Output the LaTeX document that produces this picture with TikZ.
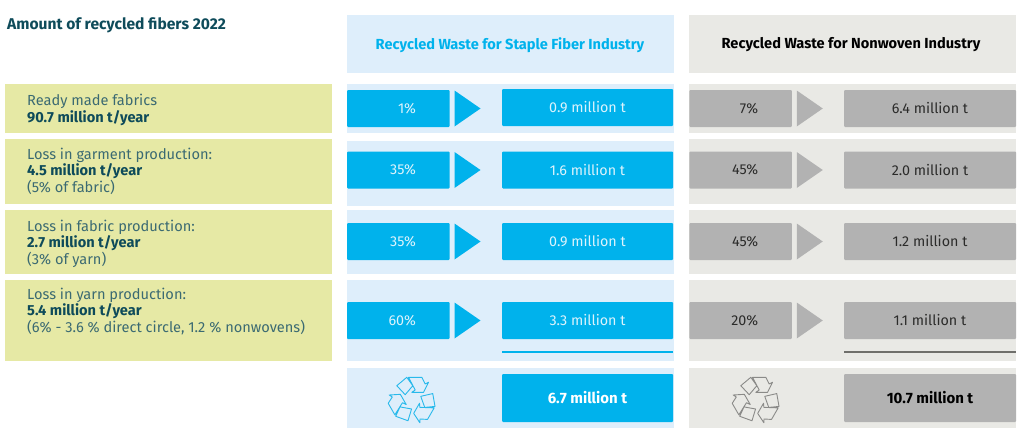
\documentclass[tikz,border=0pt]{standalone}
\usepackage{fontspec}
\setmainfont{Fira Sans}
\usetikzlibrary{positioning,shapes.geometric}
\definecolor{bluebox}{HTML}{00B2EC}
\definecolor{bluerow}{HTML}{DEEEFB}
\definecolor{bluetext}{HTML}{DDF3FC}
\definecolor{iconb}{RGB}{40,185,235}
\definecolor{grayrow}{HTML}{E9E9E5}
\definecolor{graybox}{HTML}{B2B2B2}
\definecolor{grayline}{HTML}{6F6F6B}
\definecolor{icong}{HTML}{8A8A88}
\definecolor{darktext}{HTML}{2B2B2A}
\definecolor{greenrow}{HTML}{E6E9A5}
\definecolor{greentext}{HTML}{3B6A72}
\definecolor{tealtext}{HTML}{0E4B5A}
\tikzset{
    %Define style for flat backgrounds
    flat/.style={
           rectangle,
           inner sep=0pt,
           outer sep=0pt,
           anchor=north west},
    %Define style for boxes
    sumblue/.style={
           rectangle,
           rounded corners=1pt,
           fill=bluebox,
           text=bluetext,
           inner sep=0pt,
           outer sep=0pt,
           minimum width=171pt,
           minimum height=37pt,
           font=\fontsize{14.3}{16}\selectfont},
    pctblue/.style={
           sumblue,
           minimum width=102.5pt,
           text width=35.5pt,
           align=right},
    sumgray/.style={
           sumblue,
           fill=graybox,
           text=darktext,
           minimum width=172pt},
    pctgray/.style={
           pctblue,
           fill=graybox,
           text=darktext},
    %Define style for the triangles
    tipblue/.style={
           isosceles triangle,
           isosceles triangle apex angle=70,
           isosceles triangle stretches,
           fill=bluebox,
           inner sep=0pt,
           outer sep=0pt,
           minimum width=36pt,
           minimum height=26pt},
    tipgray/.style={
           tipblue,
           fill=graybox},
    % Define text styles
    head/.style={
           inner sep=0pt,
           font=\fontsize{14.6}{16}\bfseries\selectfont},
    total/.style={
           minimum height=48pt,
           font=\fontsize{15}{16}\bfseries\selectfont},
    side/.style={
           inner sep=0pt,
           anchor=north west,
           align=left,
           text=greentext,
           font=\fontsize{14.6}{16.5}\selectfont},
    % Define the recycling sign
    recycle/.pic={
        \draw[pic actions, yscale=-1] (-15.7,14.3) -- (-5.7,22.7) -- (0.3,14.3) -- (-7.3,5.3) -- cycle
            (-4,22.7) -- (9.3,22.7) -- (12.7,16) -- (16,17.7) -- (11,7.7) -- (-0.7,7.7) -- (2.7,10) -- cycle;
        \draw[pic actions, yscale=-1, rotate=120] (-15.7,14.3) -- (-5.7,22.7) -- (0.3,14.3) -- (-7.3,5.3) -- cycle
            (-4,22.7) -- (9.3,22.7) -- (12.7,16) -- (16,17.7) -- (11,7.7) -- (-0.7,7.7) -- (2.7,10) -- cycle;
        \draw[pic actions, yscale=-1, rotate=240] (-15.7,14.3) -- (-5.7,22.7) -- (0.3,14.3) -- (-7.3,5.3) -- cycle
            (-4,22.7) -- (9.3,22.7) -- (12.7,16) -- (16,17.7) -- (11,7.7) -- (-0.7,7.7) -- (2.7,10) -- cycle;
    }
}
\newcommand{\boldline}[1]{{\bfseries\color{tealtext}#1}}
\begin{document}
\begin{tikzpicture}[x=1pt,y=-1pt]
\useasboundingbox (0,0) rectangle (1024,434);
% backgrounds on the left
\node[flat,fill=greenrow,minimum width=327pt,minimum height=49pt] (panel1) at (5,84) {};
\node[flat,fill=greenrow,minimum width=327pt,minimum height=65pt] (panel2) at (5,139) {};
\node[flat,fill=greenrow,minimum width=327pt,minimum height=64.5pt] (panel3) at (5,209.5) {};
\node[flat,fill=greenrow,minimum width=327pt,minimum height=81pt] (panel4) at (5,280) {};
% blue column
\node[flat,fill=bluerow,minimum width=327pt,minimum height=58pt] (headblue) at (347,15) {};
\node[flat,fill=bluerow,minimum width=327pt,minimum height=49pt] (rowb1) at (347,84) {};
\node[flat,fill=bluerow,minimum width=327pt,minimum height=65pt] (rowb2) at (347,141) {};
\node[flat,fill=bluerow,minimum width=327pt,minimum height=64.5pt] (rowb3) at (347,209.5) {};
\node[flat,fill=bluerow,minimum width=327pt,minimum height=81pt] (rowb4) at (347,280) {};
\node[flat,fill=bluerow,minimum width=327pt,minimum height=60pt] (rowb5) at (347,368) {};
% gray column
\node[flat,fill=grayrow,minimum width=327pt,minimum height=58pt] (headgray) at (689,15) {};
\node[flat,fill=grayrow,minimum width=327pt,minimum height=49pt] (rowg1) at (689,84) {};
\node[flat,fill=grayrow,minimum width=327pt,minimum height=65pt] (rowg2) at (689,139) {};
\node[flat,fill=grayrow,minimum width=327pt,minimum height=64.5pt] (rowg3) at (689,209.5) {};
\node[flat,fill=grayrow,minimum width=327pt,minimum height=81pt] (rowg4) at (689,280) {};
\node[flat,fill=grayrow,minimum width=327pt,minimum height=60pt] (rowg5) at (689,368) {};
% texts on the left
\node[head,anchor=west,text=tealtext,font=\fontsize{15.6}{16}\bfseries\selectfont] (title) at (7,25) {Amount of recycled fibers 2022};
\node[side] (text1) at (27,94) {Ready made fabrics\\\boldline{90.7 million t/year}};
\node[side] (text2) at (27,147.5) {Loss in garment production:\\\boldline{4.5 million t/year}\\(5\% of fabric)};
\node[side] (text3) at (27,219.5) {Loss in fabric production:\\\boldline{2.7 million t/year}\\(3\% of yarn)};
\node[side] (text4) at (27,287.5) {Loss in yarn production:\\\boldline{5.4 million t/year}\\(6\% - 3.6 \% direct circle, 1.2 \% nonwovens)};
% headers
\node[head,text=bluebox] (titleblue) at (510,45) {Recycled Waste for Staple Fiber Industry};
\node[head,text=black] (titlegray) at (851,45) {Recycled Waste for Nonwoven Industry};
% blue boxes
\node[pctblue] (pb1) at (398.25,108.5) {1\%};
\node[tipblue,right=5pt of pb1] (tb1) {};
\node[sumblue] (sb1) at (587.5,107.5) {0.9 million t};
\node[pctblue] (pb2) at (398.25,170) {35\%};
\node[tipblue,right=5pt of pb2] (tb2) {};
\node[sumblue] (sb2) at (587.5,170) {1.6 million t};
\node[pctblue] (pb3) at (398.25,241.5) {35\%};
\node[tipblue,right=5pt of pb3] (tb3) {};
\node[sumblue] (sb3) at (587.5,241.5) {0.9 million t};
\node[pctblue] (pb4) at (398.25,320.5) {60\%};
\node[tipblue,right=5pt of pb4] (tb4) {};
\node[sumblue] (sb4) at (587.5,320.5) {3.3 million t};
\node[sumblue,total,text=white] (totalblue) at (587.5,398) {\raisebox{-2pt}{6.7 million t}};
\node[flat,fill=bluebox,minimum width=171pt,minimum height=2pt] (ruleb) at (502,350.5) {};
\pic[draw=iconb,line width=0.9pt,line join=round] (signblue) at (412.5,400) {recycle};
% gray boxes
\node[pctgray] (pg1) at (740.5,108.5) {7\%};
\node[tipgray,right=5pt of pg1] (tg1) {};
\node[sumgray] (sg1) at (930,108.5) {6.4 million t};
\node[pctgray] (pg2) at (740.5,170) {45\%};
\node[tipgray,right=5pt of pg2] (tg2) {};
\node[sumgray] (sg2) at (930,170) {2.0 million t};
\node[pctgray] (pg3) at (740.5,241.5) {45\%};
\node[tipgray,right=5pt of pg3] (tg3) {};
\node[sumgray] (sg3) at (930,241.5) {1.2 million t};
\node[pctgray] (pg4) at (740.5,320.5) {20\%};
\node[tipgray,right=5pt of pg4] (tg4) {};
\node[sumgray] (sg4) at (930,320.5) {1.1 million t};
\node[sumgray,total,text=black] (totalgray) at (930,398) {\raisebox{-2pt}{10.7 million t}};
\node[flat,fill=grayline,minimum width=172pt,minimum height=2pt] (ruleg) at (844,350.5) {};
\pic[draw=icong,line width=0.9pt,line join=round] (signgray) at (756.5,400) {recycle};
\end{tikzpicture}
\end{document}
